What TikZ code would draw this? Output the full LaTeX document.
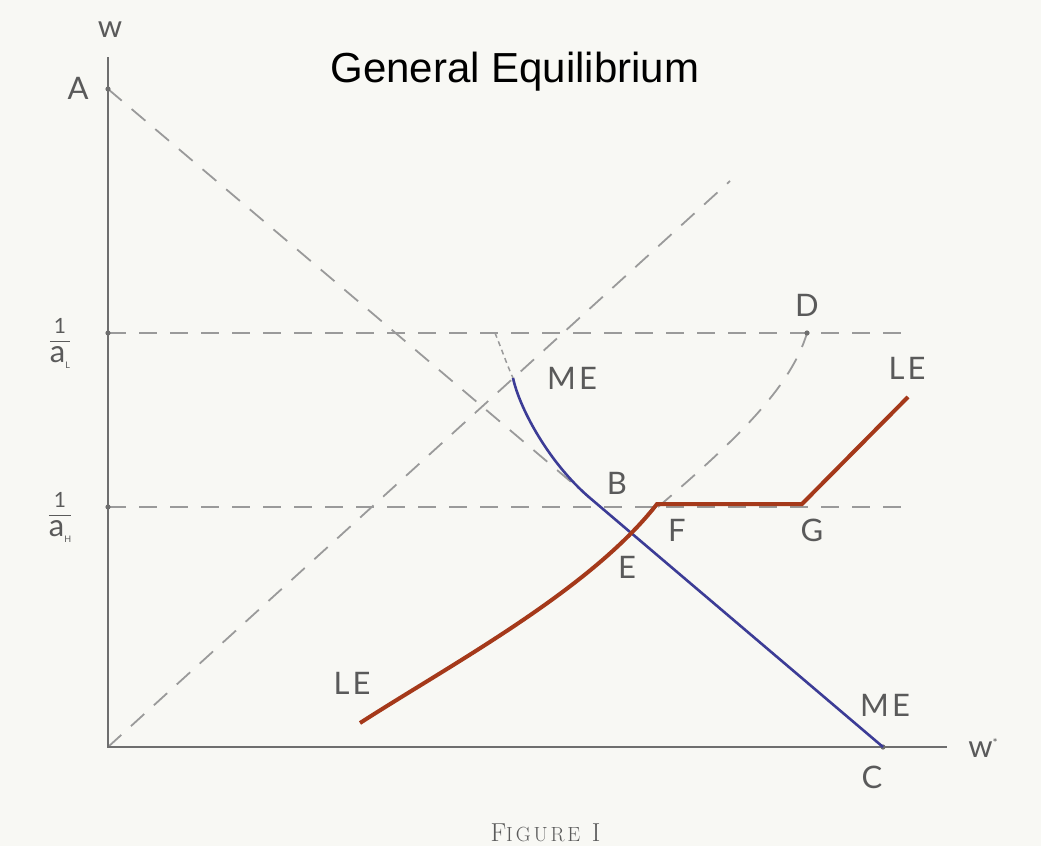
\documentclass[tikz,border=0pt]{standalone}
\usepackage{fontspec}
\usepackage{xcolor}
\usepackage{tikz}
\usetikzlibrary{calc}
\setmainfont{Latin Modern Roman}
\newfontfamily\titlefont{Liberation Sans}
\newfontfamily\lblfont[LetterSpace=10]{Lato}
\newfontfamily\capfont[LetterSpace=14]{Latin Modern Roman}
\definecolor{paperx}{HTML}{F8F8F4}
\definecolor{inkx}{HTML}{5A5A5A}
\definecolor{axisx}{HTML}{6E6E6E}
\definecolor{dashx}{HTML}{9A9A9A}
\definecolor{mex}{HTML}{3C3C96}
\definecolor{lex}{HTML}{A5391A}
\tikzset{
  ax/.style={line width=2pt,axisx},
  guide/.style={line width=1.8pt,dashx,dash pattern=on 18pt off 13pt},
  fine/.style={line width=1.5pt,dashx,dash pattern=on 5pt off 4pt},
  mecurve/.style={line width=2.6pt,mex},
  lecurve/.style={line width=4pt,lex,line join=miter},
  lbl/.style={inkx,font=\lblfont\fontsize{31}{31}\selectfont,inner sep=1pt},
  dot/.style={fill=axisx}
}

\begin{document}
\begin{tikzpicture}[x=1pt,y=-1pt]
\fill[paperx] (0,0) rectangle (1041,846);
\useasboundingbox (0,0) rectangle (1041,846);
% points
\coordinate (O) at (108,747);
\coordinate (top) at (108,57);
\coordinate (right) at (947,747);
\coordinate (A) at (108,89);
\coordinate (C) at (883,747);
\coordinate (D) at (807,333);
\coordinate (F) at (657,504);
\coordinate (G) at (802,504);
\coordinate (Lend) at (908,397);
\coordinate (Lstart) at (360,723);
\coordinate (MEtop) at (513,378);
\coordinate (MEjoin) at (590,498);
\coordinate (kink) at (495,333);
\coordinate (aLl) at (108,333);
\coordinate (aLr) at (907,333);
\coordinate (aHl) at (108,507);
\coordinate (aHr) at (912,507);
\coordinate (diag) at (730,181);
\coordinate (Fd) at (658,507);
% guides
\draw[guide] (aLl) -- (aLr);
\draw[guide] (aHl) -- (aHr);
\draw[guide] (O) -- (diag);
\draw[guide] (A) -- (MEjoin);
\draw[guide] (Fd) .. controls (730,445) and (790,390) .. (D);
\draw[fine] (kink) .. controls (502,350) and (507,365) .. (MEtop);
% axes
\draw[ax] (top) -- (O) -- (right);
\foreach \p in {A,C,D,aLl,aHl} \fill[dot] (\p) circle (2.6pt);
% curves
\draw[mecurve] (MEtop) .. controls (520,410) and (550,464) .. (MEjoin) -- (C);
\draw[lecurve] (Lstart) .. controls (450,665) and (590,590) .. (F) -- (G) -- (Lend);
% labels
\node[anchor=base] (title) at (515,82) {\titlefont\fontsize{42}{42}\selectfont General Equilibrium};
\node[lbl] (wlab) at (110,30) {w};
\node[lbl] (Alab) at (78,88) {A};
\node[lbl,inner sep=0pt] (aLlab) at (60,342) {\begin{tabular}{@{}c@{}}{\fontsize{21}{21}\selectfont 1}\\[-2pt]\hline\rule{0pt}{21pt}a\raisebox{-6pt}{\fontsize{9}{9}\selectfont L}\end{tabular}};
\node[lbl,inner sep=0pt] (aHlab) at (60,516) {\begin{tabular}{@{}c@{}}{\fontsize{21}{21}\selectfont 1}\\[-2pt]\hline\rule{0pt}{21pt}a\raisebox{-6pt}{\fontsize{9}{9}\selectfont H}\end{tabular}};
\node[lbl] (MEup) at (572,378) {ME};
\node[lbl] (Blab) at (617,483) {B};
\node[lbl] (Dlab) at (807,305) {D};
\node[lbl] (LEup) at (907,368) {LE};
\node[lbl] (Flab) at (677,530) {F};
\node[lbl] (Elab) at (627,567) {E};
\node[lbl] (Glab) at (812,530) {G};
\node[lbl] (LEdn) at (352,683) {LE};
\node[lbl] (MEdn) at (885,705) {ME};
\node[lbl] (Clab) at (872,777) {C};
\node[lbl] (wslab) at (983,748) {w\raisebox{10pt}{\fontsize{12}{12}\selectfont *}};
\node[inkx,anchor=base west] (cap) at (487,841) {\capfont\fontsize{26}{26}\selectfont F{\fontsize{20.5}{20}\selectfont IGURE} I};
\end{tikzpicture}
\end{document}
